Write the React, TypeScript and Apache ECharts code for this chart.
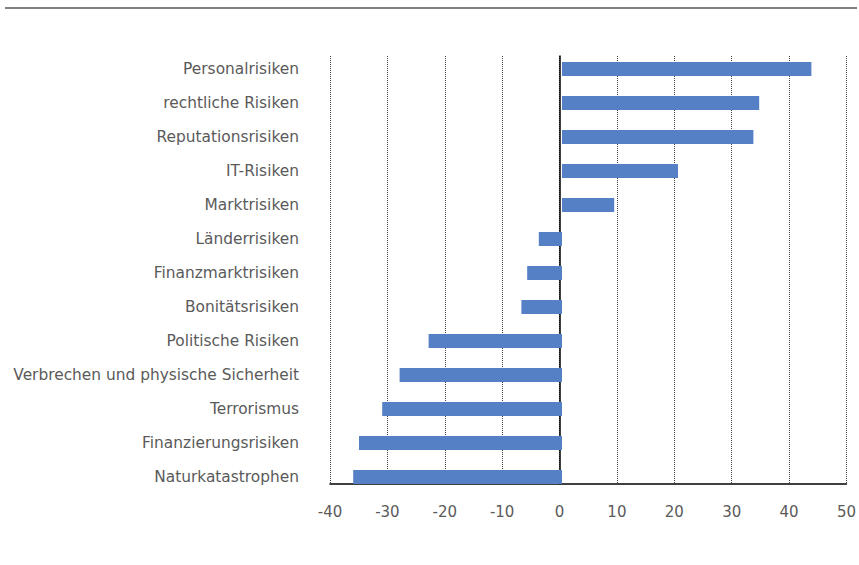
import React, { useEffect, useRef } from "react";
import * as echarts from "echarts";

const categories = [
  "Personalrisiken",
  "rechtliche Risiken",
  "Reputationsrisiken",
  "IT-Risiken",
  "Marktrisiken",
  "Länderrisiken",
  "Finanzmarktrisiken",
  "Bonitätsrisiken",
  "Politische Risiken",
  "Verbrechen und physische Sicherheit",
  "Terrorismus",
  "Finanzierungsrisiken",
  "Naturkatastrophen",
];

const values = [43, 34, 33, 20, 9, -4, -6, -7, -23, -28, -31, -35, -36];

const xMin = -40;
const xMax = 50;
const xStep = 10;

const FONT = "DejaVu Sans";
const TEXT_COLOR = "#5a5a5a";

export default function App() {
  const ref = useRef<HTMLDivElement>(null);

  useEffect(() => {
    if (!ref.current) return;
    const chart = echarts.init(ref.current, undefined, { renderer: "svg" });
    const option: any = {
      animation: false,
      backgroundColor: "#ffffff",
      graphic: [
        {
          type: "line",
          shape: { x1: 5, y1: 8, x2: 857, y2: 8 },
          style: { stroke: "#808080", lineWidth: 2 },
        },
      ],
      grid: [
        { left: 330, width: 522, top: 56, bottom: 81 },
        { left: 330, width: 522, top: 52, bottom: 71 },
      ],
      xAxis: [
        {
          type: "value",
          gridIndex: 0,
          min: xMin,
          max: xMax,
          interval: xStep,
          position: "bottom",
          axisLine: { show: true, onZero: false, lineStyle: { color: "#000000", width: 1.5 } },
          axisTick: { show: false },
          axisLabel: {
            show: true,
            margin: 20,
            color: TEXT_COLOR,
            fontFamily: FONT,
            fontSize: 15,
          },
          splitLine: {
            show: true,
            lineStyle: { color: "#444444", type: [1, 1], width: 1 },
          },
        },
        {
          type: "value",
          gridIndex: 1,
          min: xMin,
          max: xMax,
          interval: xStep,
          show: false,
        },
      ],
      yAxis: [
        {
          type: "category",
          gridIndex: 0,
          data: categories,
          inverse: true,
          axisLine: { show: true, onZero: true, lineStyle: { color: "#000000", width: 1.5 } },
          axisTick: { show: false },
          axisLabel: { show: false },
          splitLine: { show: false },
        },
        {
          type: "category",
          gridIndex: 1,
          data: categories,
          inverse: true,
          axisLine: { show: false },
          axisTick: { show: false },
          axisLabel: {
            show: true,
            margin: 31,
            color: TEXT_COLOR,
            fontFamily: FONT,
            fontSize: 15.4,
            padding: [4, 0, 0, 0],
          },
          splitLine: { show: false },
        },
      ],
      series: [
        {
          type: "bar",
          xAxisIndex: 1,
          yAxisIndex: 1,
          data: values,
          barWidth: 14,
          itemStyle: { color: "#5580C6" },
          z: 1,
        },
      ],
    };
    chart.setOption(option);
    return () => chart.dispose();
  }, []);

  return (
    <div
      ref={ref}
      style={{ position: "absolute", left: 0, top: 0, width: 859, height: 565 }}
    />
  );
}
